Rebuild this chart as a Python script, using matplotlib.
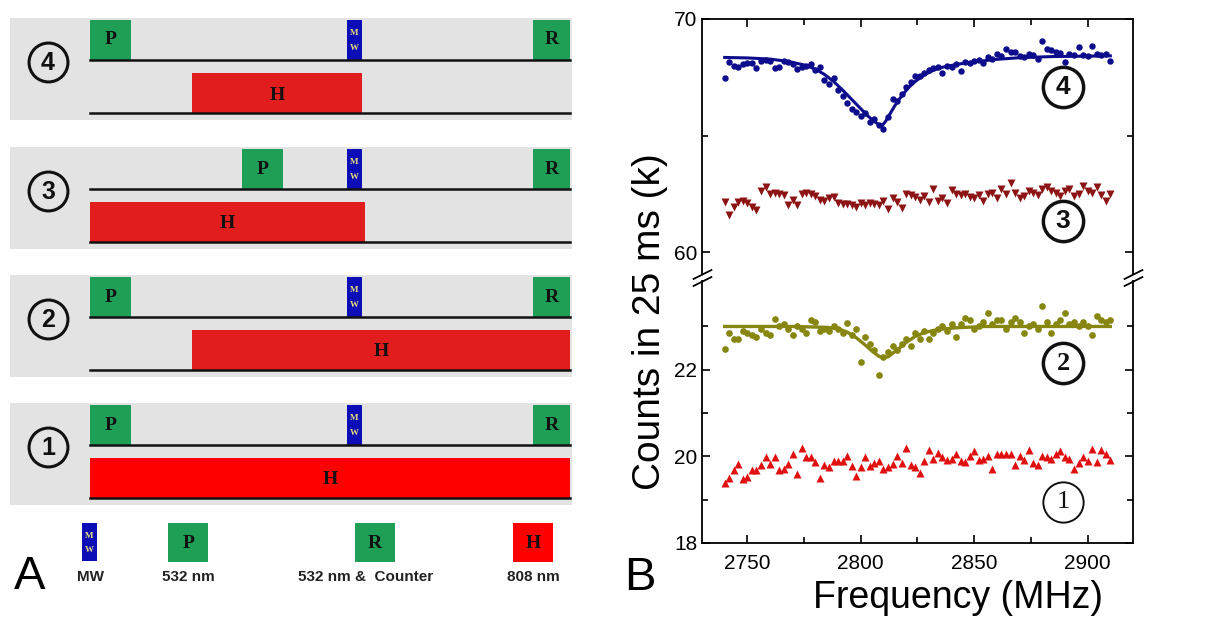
import matplotlib
matplotlib.use("Agg")
import matplotlib.pyplot as plt
from matplotlib.patches import Rectangle

# ---------------- data ----------------
freq = list(range(2740, 2912, 2))

counts_4 = [67.45, 68.15, 68.0, 67.95, 68.05, 68.1, 68.1, 67.9, 68.2, 68.25,
            68.2, 67.9, 67.92, 68.2, 68.15, 68.05, 67.85, 67.95, 68.0, 68.05,
            67.8, 67.95, 67.4, 67.2, 67.45, 66.95, 66.7, 66.4, 66.15, 66.0,
            65.85, 65.95, 65.6, 65.7, 65.45, 65.3, 65.8, 66.55, 66.5, 66.8,
            67.1, 67.3, 67.55, 67.55, 67.7, 67.8, 67.9, 67.95, 67.7, 68.0,
            67.95, 68.05, 67.75, 68.15, 68.1, 68.2, 68.25, 68.1, 68.35, 68.3,
            68.5, 68.4, 68.7, 68.6, 68.6, 68.4, 68.35, 68.5, 68.45, 68.3,
            69.05, 68.7, 68.65, 68.6, 68.55, 68.15, 68.5, 68.45, 68.8, 68.45,
            68.4, 68.85, 68.5, 68.45, 68.5, 68.2]

counts_3 = [62.15, 61.6, 61.95, 62.15, 62.2, 62.1, 61.95, 61.8, 62.6, 62.8,
            62.5, 62.55, 62.5, 62.45, 62.0, 62.25, 62.0, 62.5, 62.55, 62.5,
            62.4, 62.25, 62.2, 62.3, 62.35, 62.1, 62.05, 62.05, 62.0, 61.95,
            62.1, 62.0, 62.1, 62.05, 62.0, 62.2, 61.85, 62.3, 62.15, 61.9,
            62.5, 62.45, 62.35, 62.25, 62.4, 62.15, 62.7, 62.2, 62.3, 62.1,
            62.65, 62.5, 62.45, 62.5, 62.35, 62.3, 62.45, 62.2, 62.5, 62.55,
            62.3, 62.7, 62.5, 62.95, 62.55, 62.3, 62.4, 62.6, 62.55, 62.45,
            62.7, 62.8, 62.6, 62.55, 62.4, 62.6, 62.7, 62.4, 62.5, 62.85,
            62.6, 62.55, 62.8, 62.45, 62.2, 62.5]

counts_2 = [22.48, 22.85, 22.7, 22.72, 22.9, 22.85, 22.8, 22.75, 22.95, 22.85,
            22.8, 23.17, 23.0, 23.05, 22.95, 22.8, 23.0, 22.95, 22.85, 23.15,
            23.1, 22.9, 22.95, 22.9, 23.0, 22.95, 22.85, 23.07, 22.8, 22.95,
            22.18, 22.75, 22.6, 22.45, 21.88, 22.3, 22.4, 22.55, 22.45, 22.6,
            22.7, 22.55, 22.85, 22.7, 22.9, 22.7, 22.85, 22.95, 23.0, 22.9,
            23.05, 22.75, 23.05, 23.2, 23.15, 22.95, 23.0, 23.1, 23.3, 23.05,
            23.15, 23.15, 22.95, 23.1, 23.2, 23.1, 22.85, 23.0, 23.05, 22.95,
            23.48, 23.1, 22.85, 23.05, 23.15, 23.3, 23.05, 23.1, 23.0, 23.1,
            23.0, 22.8, 23.25, 23.15, 23.1, 23.15]

counts_1 = [19.38, 19.5, 19.68, 19.82, 19.48, 19.52, 19.68, 19.68, 19.8, 19.98,
            19.82, 19.98, 19.68, 19.72, 19.82, 20.05, 19.6, 20.2, 19.98, 19.98,
            19.88, 19.5, 19.8, 19.75, 19.9, 19.9, 19.9, 20.0, 19.78, 19.55,
            19.75, 19.98, 19.78, 19.85, 19.9, 19.7, 19.75, 19.82, 20.02, 19.85,
            20.2, 19.8, 19.75, 19.62, 19.9, 20.15, 19.95, 20.08, 19.98, 19.92,
            19.95, 20.05, 19.9, 19.88, 20.02, 20.12, 19.92, 19.95, 20.0, 19.72,
            20.05, 20.05, 20.05, 20.05, 19.8, 20.0, 19.92, 20.15, 19.85, 19.8,
            20.0, 19.98, 19.95, 20.05, 20.12, 19.98, 19.95, 19.7, 19.85, 19.98,
            19.9, 20.18, 19.88, 20.15, 20.05, 19.92]

fit4_x = [2740, 2750, 2760, 2768, 2775, 2780, 2784, 2788, 2792, 2796, 2800, 2803,
          2806, 2808, 2809.5, 2811, 2813, 2815, 2818, 2821, 2824, 2828, 2832,
          2836, 2842, 2850, 2860, 2870, 2885, 2910]
fit4_y = [68.35, 68.33, 68.28, 68.18, 68.03, 67.85, 67.62, 67.32, 66.95, 66.55,
          66.15, 65.85, 65.6, 65.47, 65.43, 65.62, 65.95, 66.28, 66.7, 67.05,
          67.32, 67.6, 67.8, 67.93, 68.05, 68.16, 68.27, 68.34, 68.39, 68.42]

fit2_x = [2740, 2770, 2785, 2790, 2794, 2798, 2802, 2805, 2808, 2810, 2812, 2814,
          2817, 2820, 2824, 2828, 2834, 2842, 2855, 2910]
fit2_y = [23.0, 23.0, 22.98, 22.95, 22.87, 22.74, 22.57, 22.43, 22.31, 22.28,
          22.3, 22.38, 22.5, 22.63, 22.77, 22.86, 22.93, 22.97, 23.0, 23.0]

# pulse sequences (time in % of the cycle), rows from top: 4, 3, 2, 1
seq_names = ["4", "3", "2", "1"]
p_start = [0, 31.7, 0, 0]
p_len = 8.5
mw_pulse = (53.5, 56.7)
r_pulse = (92.3, 100)
h_start = [21.25, 0, 21.25, 0]
h_end = [56.7, 57.3, 100, 100]
h_colors = ["#e21d1d", "#e21d1d", "#e21d1d", "#fe0000"]

legend_names = ["MW", "532 nm", "532 nm &  Counter", "808 nm"]

GREEN = "#1f9e55"
BLUE = "#0d0db8"
GRAY = "#e3e3e3"

plt.rcParams["font.family"] = ["Liberation Sans", "DejaVu Sans"]

fig = plt.figure(figsize=(12.22, 6.32), dpi=100)

# ---------------- panel A ----------------
axA = fig.add_axes([0, 0, 600 / 1222, 1])
axA.set_xlim(-18.75, 106.25)
axA.set_ylim(632, 0)
axA.axis("off")

row_tops = [18, 147, 275, 403]


def letter(ax, x, y, s, size=14, color="#111111"):
    ax.text(x, y, s, ha="center", va="center", fontsize=size, fontweight="bold",
            family="Liberation Serif", color=color)


def mw_box(ax, x0, x1, y0, h):
    ax.add_patch(Rectangle((x0, y0), x1 - x0, h, color=BLUE, lw=0))
    xm = (x0 + x1) / 2
    letter(ax, xm, y0 + h * 0.33, "M", size=6.5, color="#e8dc78")
    letter(ax, xm, y0 + h * 0.7, "W", size=6.5, color="#e8dc78")


for i, top in enumerate(row_tops):
    axA.add_patch(Rectangle((-16.6, top), 117.0, 102, color=GRAY, lw=0))
    axA.plot([-8.75], [top + 44], "o", ms=28, mfc="none", mec="#111111", mew=2.2)
    axA.text(-8.75, top + 45, seq_names[i], ha="center", va="center", fontsize=18,
             fontweight="bold", color="#111111")
    # upper channel: P, MW, R
    axA.add_patch(Rectangle((p_start[i], top + 2), p_len, 40, color=GREEN, lw=0))
    letter(axA, p_start[i] + p_len / 2, top + 22, "P")
    mw_box(axA, mw_pulse[0], mw_pulse[1], top + 2, 40)
    axA.add_patch(Rectangle((r_pulse[0], top + 2), r_pulse[1] - r_pulse[0], 40,
                            color=GREEN, lw=0))
    letter(axA, (r_pulse[0] + r_pulse[1]) / 2, top + 22, "R")
    axA.plot([0, 100], [top + 42, top + 42], color="#111111", lw=1.8)
    # lower channel: H
    axA.add_patch(Rectangle((h_start[i], top + 55), h_end[i] - h_start[i], 40,
                            color=h_colors[i], lw=0))
    letter(axA, (h_start[i] + h_end[i]) / 2, top + 77, "H")
    axA.plot([0, 100], [top + 95, top + 95], color="#111111", lw=1.8)

# legend row
leg_y = 523
mw_box(axA, -1.7, 1.5, leg_y, 38)
axA.add_patch(Rectangle((16.25, leg_y), 8.4, 39, color=GREEN, lw=0))
letter(axA, 20.45, leg_y + 20, "P")
axA.add_patch(Rectangle((55.2, leg_y), 8.4, 39, color=GREEN, lw=0))
letter(axA, 59.4, leg_y + 20, "R")
axA.add_patch(Rectangle((88.1, leg_y), 8.4, 39, color="#fe0000", lw=0))
letter(axA, 92.3, leg_y + 20, "H")
for x, s in zip([0, 20.45, 57.5, 92.3], legend_names):
    axA.text(x, 577, s, ha="center", va="center", fontsize=11, fontweight="bold",
             color="#222222")
axA.text(-12.5, 577, "A", ha="center", va="center", fontsize=34, color="black")

# ---------------- panel B ----------------
x_lo, x_w = 702 / 1222, 431 / 1222
ax_up = fig.add_axes([x_lo, 1 - 274 / 632, x_w, 255 / 632])
ax_dn = fig.add_axes([x_lo, 1 - 543 / 632, x_w, 262 / 632])

ax_up.plot(freq, counts_4, "o", ms=3.6, color="#0c0c8c")
ax_up.plot(fit4_x, fit4_y, "-", lw=2.2, color="#0c0c8c")
ax_up.plot(freq, counts_3, "v", ms=6, color="#8c1414", mec="none")
ax_dn.plot(freq, counts_2, "o", ms=3.8, color="#868610")
ax_dn.plot(fit2_x, fit2_y, "-", lw=2.4, color="#868610")
ax_dn.plot(freq, counts_1, "^", ms=6, color="#e01010", mec="none")

for ax in (ax_up, ax_dn):
    ax.set_xlim(2730, 2920)
    ax.set_xticks([2750, 2800, 2850, 2900])
    ax.set_xticks([2775, 2825, 2875], minor=True)
    ax.tick_params(which="both", direction="in", top=True, right=True,
                   labelsize=15, width=1.2)
    ax.tick_params(which="major", length=6)
    ax.tick_params(which="minor", length=4)
    for sp in ax.spines.values():
        sp.set_linewidth(1.3)

ax_up.set_ylim(59.06, 70)
ax_up.set_yticks([60, 70])
ax_up.set_yticks([65], minor=True)
ax_up.spines["bottom"].set_visible(False)
ax_up.tick_params(which="both", bottom=False, labelbottom=False)

ax_dn.set_ylim(18, 24.05)
ax_dn.set_yticks([18, 20, 22])
ax_dn.set_yticks([19, 21, 23], minor=True)
ax_dn.spines["top"].set_visible(False)
ax_dn.tick_params(which="both", top=False)
ax_dn.tick_params(axis="x", pad=8)

# axis break marks
kw = dict(marker=[(-1, -0.5), (1, 0.5)], markersize=14, linestyle="none",
          color="k", mec="k", mew=1.3, clip_on=False)
ax_up.plot([0, 1], [0, 0], transform=ax_up.transAxes, **kw)
ax_dn.plot([0, 1], [1, 1], transform=ax_dn.transAxes, **kw)

fig.text(958 / 1222, 1 - 598 / 632, "Frequency (MHz)", ha="center", va="center",
         fontsize=27)
fig.text(650 / 1222, 1 - 322 / 632, "Counts in 25 ms (k)", rotation=90,
         ha="center", va="center", fontsize=28)
fig.text(640 / 1222, 1 - 578 / 632, "B", ha="center", va="center", fontsize=34)

# circled curve labels
circ = [(ax_up, 0.733, "4", 2.5, "Liberation Sans"),
        (ax_up, 0.208, "3", 2.5, "Liberation Sans"),
        (ax_dn, 0.687, "2", 2.5, "Liberation Serif"),
        (ax_dn, 0.156, "1", 1.4, "Liberation Serif")]
for ax, yy, s, mw_, fam in circ:
    ax.plot([0.838], [yy], "o", ms=29, mfc="none", mec="#111111", mew=mw_,
            transform=ax.transAxes, clip_on=False)
    ax.text(0.838, yy, s, transform=ax.transAxes, ha="center", va="center",
            fontsize=19, fontweight="bold" if mw_ > 2 else "normal",
            family=fam, color="#111111")

fig.savefig("out.png", dpi=100)
